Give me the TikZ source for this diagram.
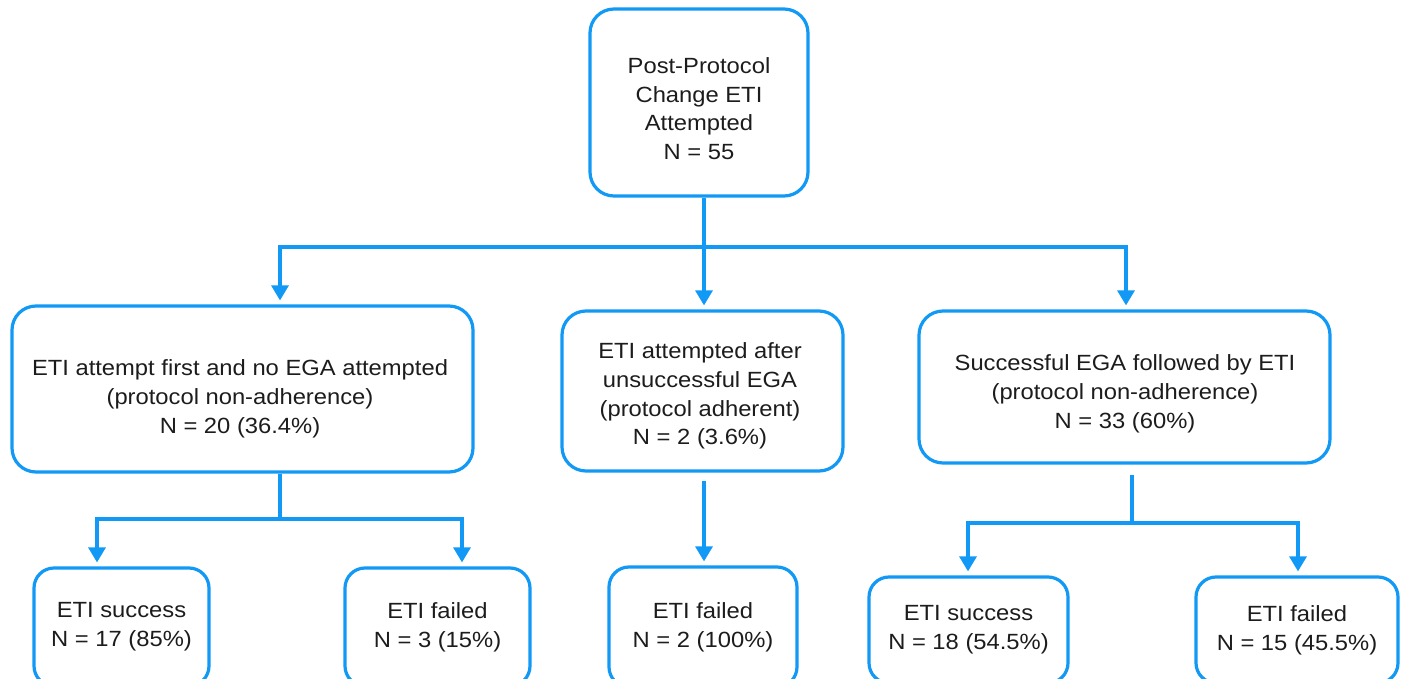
\documentclass[tikz,border=0pt]{standalone}
\usepackage{fontspec}
\setmainfont{Liberation Sans}[FakeStretch=1.08]
\usetikzlibrary{arrows.meta}
\definecolor{fblue}{RGB}{17,153,245}
\definecolor{ftext}{RGB}{28,28,28}
\newcommand\flowfont{\fontsize{22}{28.7}\selectfont}
\begin{document}
\begin{tikzpicture}[x=1pt,y=-1pt,
  box/.style={draw=fblue, line width=3.2pt, rounded corners=24pt, inner sep=0pt},
  sbox/.style={box, rounded corners=20pt, align=center, text=ftext, font=\flowfont},
  txt/.style={align=center, text=ftext, font=\flowfont, inner sep=0pt},
  conn/.style={draw=fblue, line width=3.2pt},
  arr/.style={conn, -{Triangle[width=17pt,length=15pt]}, shorten >=4pt}]
\useasboundingbox (0,0) rectangle (1401,679);

% top level
\node[box, minimum width=218pt, minimum height=187pt] (top) at (699,102.5) {};
\node[txt] (topt) at (699,108.5) {Post-Protocol\\Change ETI\\Attempted\\N = 55};

% second level
\node[box, minimum width=461pt, minimum height=166pt] (L) at (242.5,389) {};
\node[txt] (Lt) at (240,399) {ETI attempt first and no EGA attempted\\(protocol non-adherence)\\N = 20 (36.4\%)};

\node[box, minimum width=281pt, minimum height=160pt] (M) at (702.5,391) {};
\node[txt] (Mt) at (700,396) {ETI attempted after\\unsuccessful EGA\\(protocol adherent)\\N = 2 (3.6\%)};

\node[box, minimum width=411pt, minimum height=152pt] (R) at (1124.5,387) {};
\node[txt] (Rt) at (1125,394) {Successful EGA followed by ETI\\(protocol non-adherence)\\N = 33 (60\%)};

% bottom level
\node[sbox, minimum width=175pt, minimum height=118pt] (LS) at (121.5,627) {ETI success\\N = 17 (85\%)};
\node[sbox, minimum width=185pt, minimum height=118pt] (LF) at (437.5,627) {ETI failed\\N = 3 (15\%)};
\node[sbox, minimum width=188pt, minimum height=120pt] (MF) at (703,627) {ETI failed\\N = 2 (100\%)};
\node[sbox, minimum width=199pt, minimum height=106pt] (RS) at (968.5,630) {ETI success\\N = 18 (54.5\%)};
\node[sbox, minimum width=202pt, minimum height=106pt] (RF) at (1297,630) {ETI failed\\N = 15 (45.5\%)};

% connectors from top
\coordinate (j1) at (704,247);
\coordinate (jL) at (280,247);
\coordinate (jR) at (1126,247);
\draw[conn] (top.south -| j1) -- (j1);
\draw[arr] (j1) -- (jL) -- (jL |- L.north);
\draw[arr] (j1) -- (jR) -- (jR |- R.north);
\draw[arr] (j1) -- (j1 |- M.north);

% left subtree
\coordinate (k1) at (280,519);
\coordinate (kL) at (97,519);
\coordinate (kR) at (462,519);
\draw[conn] (L.south -| k1) -- (k1);
\draw[arr] (k1) -- (kL) -- (kL |- LS.north);
\draw[arr] (k1) -- (kR) -- (kR |- LF.north);

% middle
\draw[arr, shorten <=8pt] (M.south -| j1) -- (j1 |- MF.north);

% right subtree
\coordinate (m1) at (1132,523);
\coordinate (mL) at (968,523);
\coordinate (mR) at (1298,523);
\draw[conn, shorten <=10pt] (R.south -| m1) -- (m1);
\draw[arr] (m1) -- (mL) -- (mL |- RS.north);
\draw[arr] (m1) -- (mR) -- (mR |- RF.north);
\end{tikzpicture}
\end{document}
